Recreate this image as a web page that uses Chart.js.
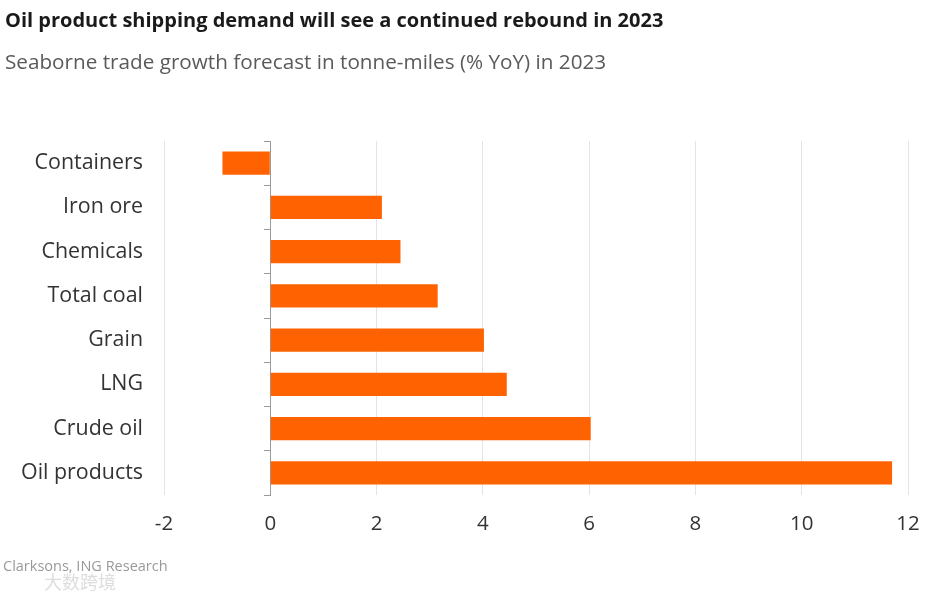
<!DOCTYPE html>
<html>
<head>
<meta charset="utf-8">
<script src="https://cdn.jsdelivr.net/npm/chart.js@4"></script>
<style>
  html, body { margin: 0; padding: 0; background: #fff; }
  #wrap { position: relative; width: 937px; height: 599px; overflow: hidden; }
  #wrap canvas { position: absolute; left: 0; top: 0; }
  .txt { position: absolute; white-space: nowrap; font-family: "Open Sans", sans-serif; }
  #title { left: 5px; top: 6px; font-size: 20px; font-weight: 700; color: #1a1a1a; }
  #subtitle { left: 5px; top: 47px; font-size: 20.7px; color: #5a5a5a; }
  #source { left: 3px; top: 556px; font-size: 14.5px; color: #999; }
  #mark { left: 44px; top: 568px; font-size: 18px; color: #ddd; font-family: "Noto Sans CJK SC", sans-serif; }
</style>
</head>
<body>
<div id="wrap">
  <canvas id="c" width="937" height="599"></canvas>
  <div class="txt" id="title">Oil product shipping demand will see a continued rebound in 2023</div>
  <div class="txt" id="subtitle">Seaborne trade growth forecast in tonne-miles (% YoY) in 2023</div>
  <div class="txt" id="source">Clarksons, ING Research</div>
  <div class="txt" id="mark">大数跨境</div>
</div>
<script>
const categories = ['Containers', 'Iron ore', 'Chemicals', 'Total coal', 'Grain', 'LNG', 'Crude oil', 'Oil products'];
const growth = [-0.9, 2.1, 2.45, 3.15, 4.02, 4.45, 6.03, 11.7];
const xMin = -2;
const xMax = 12;
const xStep = 2;

const FONT = '"Open Sans", sans-serif';

new Chart(document.getElementById('c'), {
  type: 'bar',
  data: {
    labels: categories,
    datasets: [{
      data: growth,
      backgroundColor: '#FF6200',
      borderWidth: 0,
      barPercentage: 0.52,
      categoryPercentage: 1.0,
      yAxisID: 'y'
    }]
  },
  options: {
    indexAxis: 'y',
    responsive: false,
    animation: false,
    layout: { padding: { top: 141, right: 29, bottom: 63, left: 0 } },
    plugins: { legend: { display: false }, tooltip: { enabled: false } },
    scales: {
      x: {
        type: 'linear',
        min: xMin,
        max: xMax,
        ticks: { stepSize: xStep, color: '#333', font: { family: FONT, size: 20.5 }, padding: 17 },
        grid: { color: '#e4e4e4', lineWidth: 1, drawTicks: false },
        border: { display: false },
        afterFit: (s) => { s.height = 41; }
      },
      y: {
        type: 'category',
        position: 'left',
        offset: true,
        grid: { display: false, drawTicks: false },
        border: { display: false },
        ticks: { color: '#333', font: { family: FONT, size: 21.4 }, padding: 21 },
        afterFit: (s) => { s.width = 164; }
      },
      y2: {
        type: 'category',
        labels: categories,
        position: { x: 0 },
        offset: true,
        grid: { offset: true, drawOnChartArea: false, drawTicks: true, tickLength: 6, color: '#9a9a9a', lineWidth: 1 },
        border: { display: true, color: '#9a9a9a', width: 1 },
        ticks: { display: false }
      }
    }
  }
});
</script>
</body>
</html>
